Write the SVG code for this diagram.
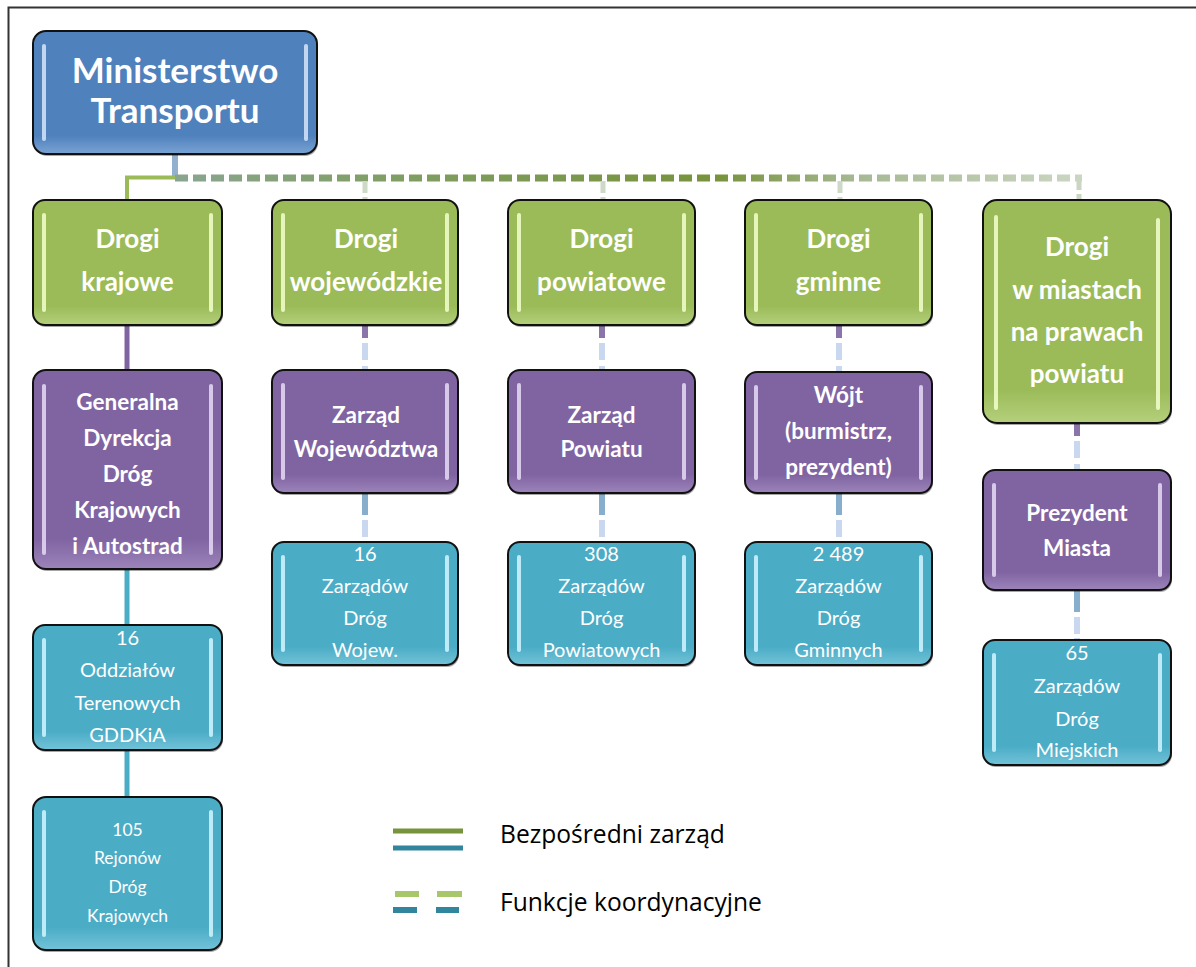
<svg xmlns="http://www.w3.org/2000/svg" width="1196" height="967" viewBox="0 0 1196 967">
<defs>
<style>
.box{stroke:#111;stroke-width:2}
.sh{fill:#000;opacity:.35}
.t{font-family:Lato,'Liberation Sans',sans-serif;fill:#fff;text-anchor:middle}
.b{font-weight:bold}
.hlB{fill:#d6e6f8;opacity:.85}
.hlG{fill:#f2ffcc;opacity:.85}
.hlP{fill:#e6dcf5;opacity:.85}
.hlC{fill:#d2f6ff;opacity:.85}
.leg{font-family:'Open Sans','Liberation Sans',sans-serif;fill:#000;font-size:24.6px}
</style>
<linearGradient id="gB" x1="0" y1="0" x2="0" y2="1"><stop offset="0" stop-color="#4f81bd"/><stop offset=".85" stop-color="#4f81bd"/><stop offset="1" stop-color="#7aa3d4"/></linearGradient>
<linearGradient id="gG" x1="0" y1="0" x2="0" y2="1"><stop offset="0" stop-color="#9bbb59"/><stop offset=".85" stop-color="#9bbb59"/><stop offset="1" stop-color="#b5d07c"/></linearGradient>
<linearGradient id="gP" x1="0" y1="0" x2="0" y2="1"><stop offset="0" stop-color="#8064a2"/><stop offset=".85" stop-color="#8064a2"/><stop offset="1" stop-color="#9c84ba"/></linearGradient>
<linearGradient id="gC" x1="0" y1="0" x2="0" y2="1"><stop offset="0" stop-color="#4bacc6"/><stop offset=".85" stop-color="#4bacc6"/><stop offset="1" stop-color="#72c3d8"/></linearGradient>
<linearGradient id="gH" gradientUnits="userSpaceOnUse" x1="175" y1="0" x2="1082" y2="0"><stop offset="0" stop-color="#8aa58f"/><stop offset=".25" stop-color="#7f9e62"/><stop offset=".6" stop-color="#77933c"/><stop offset=".75" stop-color="#a6b893"/><stop offset="1" stop-color="#cbd6c2"/></linearGradient>
</defs>
<rect width="1196" height="967" fill="#fff"/>
<path d="M8.5 967V7.5H1196" fill="none" stroke="#333" stroke-width="2"/>

<g id="connectors" fill="none">
<line x1="175" y1="154" x2="175" y2="178" stroke="#93b1cf" stroke-width="6"/>
<path d="M175 177.5H127V200" stroke="#9bbb59" stroke-width="4"/>
<line x1="175" y1="178" x2="1082" y2="178" stroke="url(#gH)" stroke-width="7" stroke-dasharray="13 5"/>
<path d="M1079 178V200" stroke="#cbd6c2" stroke-width="5" stroke-dasharray="12 4"/>
<path d="M365 181V200M603 181V200M840 181V200" stroke="#cfd9c7" stroke-width="5" stroke-dasharray="12 4"/>
<line x1="127" y1="325" x2="127" y2="370" stroke="#8064a2" stroke-width="5"/>
<line x1="127" y1="569" x2="127" y2="625" stroke="#4bacc6" stroke-width="5"/>
<line x1="127" y1="750" x2="127" y2="797" stroke="#4bacc6" stroke-width="5"/>
<g stroke-width="6">
<path d="M365 343V370M602 343V370M839 343V372M1077 441V470" stroke="#c9d8ef" stroke-dasharray="17 6"/>
<path d="M365 325V338M602 325V338M839 325V338M1077 423V436" stroke="#8a74aa"/>
<path d="M365 520V542M602 520V542M839 520V542M1077 617V640" stroke="#c9d8ef" stroke-dasharray="17 4"/>
<path d="M365 493V515M602 493V515M839 493V515M1077 590V612" stroke="#87aecd"/>
</g>
</g>

<g id="n-ministerstwo">
<rect class="sh" x="34" y="33" width="284" height="123" rx="13"/>
<rect class="box" x="33" y="31" width="284" height="123" rx="13" fill="url(#gB)"/>
<rect class="hlB" x="42" y="44" width="4" height="97" rx="2"/><rect class="hlB" x="304" y="44" width="4" height="97" rx="2"/>
<text class="t b" x="175" y="83" font-size="35">Ministerstwo</text>
<text class="t b" x="175" y="123" font-size="35">Transportu</text>
</g>

<g id="n-drogi-krajowe">
<rect class="sh" x="34" y="202" width="189" height="125" rx="12"/>
<rect class="box" x="33" y="200" width="189" height="125" rx="12" fill="url(#gG)"/>
<rect class="hlG" x="42" y="213" width="4" height="99" rx="2"/><rect class="hlG" x="209" y="213" width="4" height="99" rx="2"/>
<text class="t b" x="127.5" y="248" font-size="26">Drogi</text>
<text class="t b" x="127.5" y="291" font-size="26">krajowe</text>
</g>
<g id="n-drogi-wojewodzkie">
<rect class="sh" x="273" y="202" width="186" height="125" rx="12"/>
<rect class="box" x="272" y="200" width="186" height="125" rx="12" fill="url(#gG)"/>
<rect class="hlG" x="281" y="213" width="4" height="99" rx="2"/><rect class="hlG" x="445" y="213" width="4" height="99" rx="2"/>
<text class="t b" x="366" y="248" font-size="26">Drogi</text>
<text class="t b" x="366" y="291" font-size="26">wojewódzkie</text>
</g>
<g id="n-drogi-powiatowe">
<rect class="sh" x="509" y="202" width="187" height="125" rx="12"/>
<rect class="box" x="508" y="200" width="187" height="125" rx="12" fill="url(#gG)"/>
<rect class="hlG" x="517" y="213" width="4" height="99" rx="2"/><rect class="hlG" x="682" y="213" width="4" height="99" rx="2"/>
<text class="t b" x="601.5" y="248" font-size="26">Drogi</text>
<text class="t b" x="601.5" y="291" font-size="26">powiatowe</text>
</g>
<g id="n-drogi-gminne">
<rect class="sh" x="746" y="202" width="187" height="125" rx="12"/>
<rect class="box" x="745" y="200" width="187" height="125" rx="12" fill="url(#gG)"/>
<rect class="hlG" x="754" y="213" width="4" height="99" rx="2"/><rect class="hlG" x="919" y="213" width="4" height="99" rx="2"/>
<text class="t b" x="838.5" y="248" font-size="26">Drogi</text>
<text class="t b" x="838.5" y="291" font-size="26">gminne</text>
</g>
<g id="n-drogi-miasta">
<rect class="sh" x="984" y="202" width="188" height="223" rx="14"/>
<rect class="box" x="983" y="200" width="188" height="223" rx="14" fill="url(#gG)"/>
<rect class="hlG" x="994" y="215" width="4" height="195" rx="2"/><rect class="hlG" x="1156" y="218" width="4" height="192" rx="2"/>
<text class="t b" x="1077" y="256" font-size="26">Drogi</text>
<text class="t b" x="1077" y="299" font-size="26">w miastach</text>
<text class="t b" x="1077" y="341" font-size="26">na prawach</text>
<text class="t b" x="1077" y="383" font-size="26">powiatu</text>
</g>

<g id="n-gddkia">
<rect class="sh" x="34" y="372" width="189" height="199" rx="13"/>
<rect class="box" x="33" y="370" width="189" height="199" rx="13" fill="url(#gP)"/>
<rect class="hlP" x="42" y="384" width="4" height="171" rx="2"/><rect class="hlP" x="209" y="384" width="4" height="171" rx="2"/>
<text class="t b" x="127.5" y="410" font-size="22.5">Generalna</text>
<text class="t b" x="127.5" y="446" font-size="22.5">Dyrekcja</text>
<text class="t b" x="127.5" y="482" font-size="22.5">Dróg</text>
<text class="t b" x="127.5" y="518" font-size="22.5">Krajowych</text>
<text class="t b" x="127.5" y="554" font-size="22.5">i Autostrad</text>
</g>
<g id="n-zarzad-woj">
<rect class="sh" x="273" y="372" width="186" height="123" rx="12"/>
<rect class="box" x="272" y="370" width="186" height="123" rx="12" fill="url(#gP)"/>
<rect class="hlP" x="281" y="383" width="4" height="97" rx="2"/><rect class="hlP" x="445" y="383" width="4" height="97" rx="2"/>
<text class="t b" x="366" y="423" font-size="22.5">Zarząd</text>
<text class="t b" x="366" y="457" font-size="22.5">Województwa</text>
</g>
<g id="n-zarzad-pow">
<rect class="sh" x="509" y="372" width="187" height="123" rx="12"/>
<rect class="box" x="508" y="370" width="187" height="123" rx="12" fill="url(#gP)"/>
<rect class="hlP" x="517" y="383" width="4" height="97" rx="2"/><rect class="hlP" x="682" y="383" width="4" height="97" rx="2"/>
<text class="t b" x="601.5" y="423" font-size="22.5">Zarząd</text>
<text class="t b" x="601.5" y="457" font-size="22.5">Powiatu</text>
</g>
<g id="n-wojt">
<rect class="sh" x="746" y="374" width="187" height="121" rx="12"/>
<rect class="box" x="745" y="372" width="187" height="121" rx="12" fill="url(#gP)"/>
<rect class="hlP" x="754" y="385" width="4" height="95" rx="2"/><rect class="hlP" x="919" y="385" width="4" height="95" rx="2"/>
<text class="t b" x="838.5" y="403" font-size="22.5">Wójt</text>
<text class="t b" x="838.5" y="439" font-size="22.5">(burmistrz,</text>
<text class="t b" x="838.5" y="475" font-size="22.5">prezydent)</text>
</g>
<g id="n-prezydent">
<rect class="sh" x="984" y="472" width="188" height="120" rx="12"/>
<rect class="box" x="983" y="470" width="188" height="120" rx="12" fill="url(#gP)"/>
<rect class="hlP" x="992" y="483" width="4" height="94" rx="2"/><rect class="hlP" x="1158" y="483" width="4" height="94" rx="2"/>
<text class="t b" x="1077" y="521" font-size="22.5">Prezydent</text>
<text class="t b" x="1077" y="556" font-size="22.5">Miasta</text>
</g>

<g id="n-oddzialy">
<rect class="sh" x="34" y="627" width="189" height="125" rx="12"/>
<rect class="box" x="33" y="625" width="189" height="125" rx="12" fill="url(#gC)"/>
<rect class="hlC" x="42" y="638" width="4" height="99" rx="2"/><rect class="hlC" x="209" y="638" width="4" height="99" rx="2"/>
<text class="t" x="127.5" y="645" font-size="20">16</text>
<text class="t" x="127.5" y="677" font-size="20">Oddziałów</text>
<text class="t" x="127.5" y="710" font-size="20">Terenowych</text>
<text class="t" x="127.5" y="742" font-size="20">GDDKiA</text>
</g>
<g id="n-rejony">
<rect class="sh" x="34" y="799" width="189" height="153" rx="13"/>
<rect class="box" x="33" y="797" width="189" height="153" rx="13" fill="url(#gC)"/>
<rect class="hlC" x="42" y="810" width="4" height="127" rx="2"/><rect class="hlC" x="209" y="810" width="4" height="127" rx="2"/>
<text class="t" x="127.5" y="836" font-size="17.5">105</text>
<text class="t" x="127.5" y="864" font-size="17.5">Rejonów</text>
<text class="t" x="127.5" y="893" font-size="17.5">Dróg</text>
<text class="t" x="127.5" y="922" font-size="17.5">Krajowych</text>
</g>
<g id="n-zdw">
<rect class="sh" x="273" y="544" width="186" height="123" rx="12"/>
<rect class="box" x="272" y="542" width="186" height="123" rx="12" fill="url(#gC)"/>
<rect class="hlC" x="281" y="555" width="4" height="97" rx="2"/><rect class="hlC" x="445" y="555" width="4" height="97" rx="2"/>
<text class="t" x="365" y="561" font-size="20">16</text>
<text class="t" x="365" y="593" font-size="20">Zarządów</text>
<text class="t" x="365" y="625" font-size="20">Dróg</text>
<text class="t" x="365" y="657" font-size="20">Wojew.</text>
</g>
<g id="n-zdp">
<rect class="sh" x="509" y="544" width="187" height="123" rx="12"/>
<rect class="box" x="508" y="542" width="187" height="123" rx="12" fill="url(#gC)"/>
<rect class="hlC" x="517" y="555" width="4" height="97" rx="2"/><rect class="hlC" x="682" y="555" width="4" height="97" rx="2"/>
<text class="t" x="601.5" y="561" font-size="20">308</text>
<text class="t" x="601.5" y="593" font-size="20">Zarządów</text>
<text class="t" x="601.5" y="625" font-size="20">Dróg</text>
<text class="t" x="601.5" y="657" font-size="20">Powiatowych</text>
</g>
<g id="n-zdg">
<rect class="sh" x="746" y="544" width="187" height="123" rx="12"/>
<rect class="box" x="745" y="542" width="187" height="123" rx="12" fill="url(#gC)"/>
<rect class="hlC" x="754" y="555" width="4" height="97" rx="2"/><rect class="hlC" x="919" y="555" width="4" height="97" rx="2"/>
<text class="t" x="838.5" y="561" font-size="20">2 489</text>
<text class="t" x="838.5" y="593" font-size="20">Zarządów</text>
<text class="t" x="838.5" y="625" font-size="20">Dróg</text>
<text class="t" x="838.5" y="657" font-size="20">Gminnych</text>
</g>
<g id="n-zdm">
<rect class="sh" x="984" y="642" width="188" height="125" rx="12"/>
<rect class="box" x="983" y="640" width="188" height="125" rx="12" fill="url(#gC)"/>
<rect class="hlC" x="992" y="653" width="4" height="99" rx="2"/><rect class="hlC" x="1158" y="653" width="4" height="99" rx="2"/>
<text class="t" x="1077" y="660" font-size="20">65</text>
<text class="t" x="1077" y="693" font-size="20">Zarządów</text>
<text class="t" x="1077" y="726" font-size="20">Dróg</text>
<text class="t" x="1077" y="757" font-size="20">Miejskich</text>
</g>

<g id="legend">
<line x1="393" y1="831" x2="463" y2="831" stroke="#77933c" stroke-width="5"/>
<line x1="393" y1="848" x2="463" y2="848" stroke="#31859c" stroke-width="5"/>
<path d="M395 894H419M437 894H462" stroke="#a8c66a" stroke-width="6"/>
<path d="M393 910H417M436 910H459" stroke="#31859c" stroke-width="6"/>
<text class="leg" x="500" y="843">Bezpośredni zarząd</text>
<text class="leg" x="500" y="911">Funkcje koordynacyjne</text>
</g>
</svg>
